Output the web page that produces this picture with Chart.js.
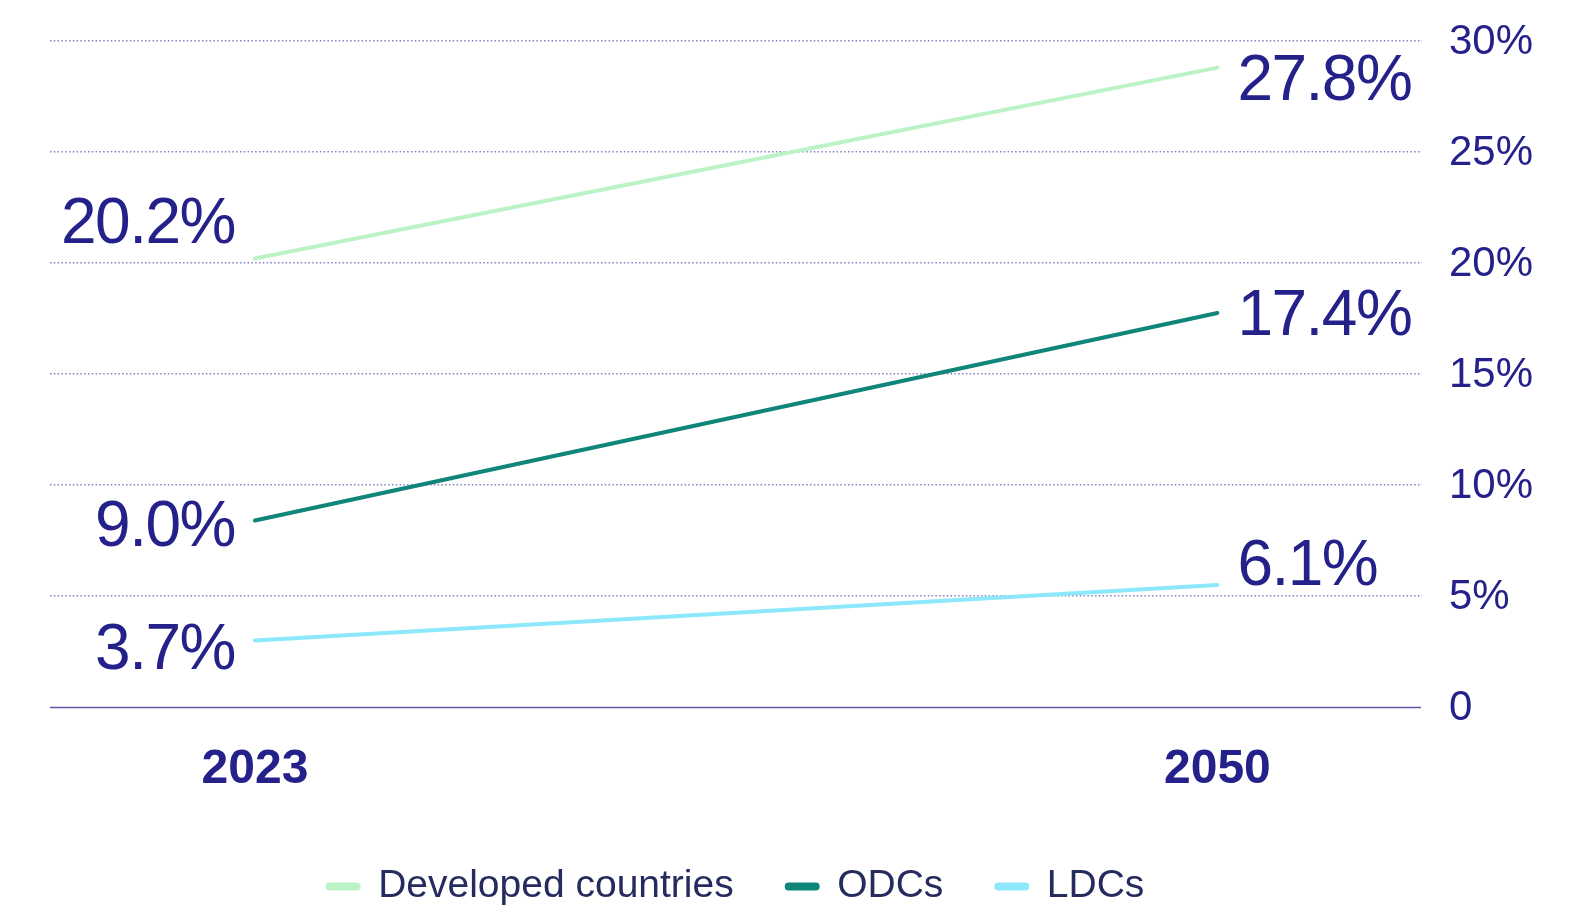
<!DOCTYPE html>
<html>
<head>
<meta charset="utf-8">
<script src="https://cdn.jsdelivr.net/npm/chart.js@4.4.1/dist/chart.umd.min.js"></script>
<style>
  html, body { margin: 0; padding: 0; background: #fff; }
  #wrap { width: 1587px; height: 908px; }
</style>
</head>
<body>
<div id="wrap"><canvas id="chart" width="1587" height="908"></canvas></div>
<script>
// years on the x axis
const years = [2023, 2050];

// series values (as plotted)
const developed = [20.2, 28.8];
const odcs = [8.4, 17.75];
const ldcs = [3.0, 5.5];

// value labels printed next to each end point
const startLabels = ['20.2%', '9.0%', '3.7%'];
const endLabels = ['27.8%', '17.4%', '6.1%'];

const seriesNames = ['Developed countries', 'ODCs', 'LDCs'];
const yTicks = [0, 5, 10, 15, 20, 25, 30];

const navy = '#24218a';
const colors = ['#bbf3c7', '#10857a', '#8ce8fa'];

// vertical nudges for the value labels so they sit clear of the grid
const startShift = [-38, 3, 6];
const endShift = [9, -1, -23];

const endLabelsPlugin = {
  id: 'endLabels',
  afterDatasetsDraw(chart) {
    const ctx = chart.ctx;
    const fs = 64;
    ctx.save();
    ctx.font = `${fs}px "Liberation Sans", Arial, sans-serif`;
    ctx.fillStyle = navy;
    ctx.textBaseline = 'alphabetic';
    if ('letterSpacing' in ctx) ctx.letterSpacing = '-1.5px';
    chart.data.datasets.forEach((ds, i) => {
      const pts = chart.getDatasetMeta(i).data;
      const a = pts[0], b = pts[1];
      ctx.textAlign = 'right';
      ctx.fillText(startLabels[i], a.x - 20, a.y + startShift[i] + fs * 0.358);
      ctx.textAlign = 'left';
      ctx.fillText(endLabels[i], b.x + 20, b.y + endShift[i] + fs * 0.358);
    });
    ctx.restore();
  }
};

const zeroLinePlugin = {
  id: 'zeroLine',
  beforeDatasetsDraw(chart) {
    const { ctx, chartArea } = chart;
    const y = Math.round(chart.scales.y.getPixelForValue(0)) + 0.5;
    ctx.save();
    ctx.strokeStyle = '#5d59a9';
    ctx.lineWidth = 1.5;
    ctx.beginPath();
    ctx.moveTo(chartArea.left, y);
    ctx.lineTo(chartArea.right - 1, y);
    ctx.stroke();
    ctx.restore();
  }
};

const mk = (arr) => arr.map((v, i) => ({ x: years[i], y: v }));

new Chart(document.getElementById('chart'), {
  type: 'line',
  data: {
    datasets: [developed, odcs, ldcs].map((d, i) => ({
      label: seriesNames[i],
      data: mk(d),
      borderColor: colors[i],
      backgroundColor: colors[i],
      borderWidth: 4,
      borderCapStyle: 'round',
      pointRadius: 0,
      tension: 0
    }))
  },
  options: {
    responsive: false,
    devicePixelRatio: 1,
    animation: false,
    layout: { padding: { left: 50, top: 41, right: 0, bottom: -8 } },
    plugins: {
      tooltip: { enabled: false },
      legend: {
        position: 'bottom',
        fullSize: false,
        labels: {
          color: '#262b5f',
          font: { family: '"Liberation Sans", Arial, sans-serif', size: 39 },
          boxWidth: 31,
          boxHeight: 4,
          useBorderRadius: true,
          borderRadius: 2,
          padding: 53
        }
      }
    },
    scales: {
      x: {
        type: 'linear',
        min: 2017.25,
        max: 2055.74,
        grid: { display: false },
        border: { display: false },
        afterBuildTicks: (s) => { s.ticks = years.map(v => ({ value: v })); },
        afterFit: (s) => { s.height = 107; },
        ticks: {
          color: navy,
          padding: 26,
          font: { family: '"Liberation Sans", Arial, sans-serif', size: 48, weight: 'bold' },
          callback: (v) => String(v)
        }
      },
      y: {
        position: 'right',
        min: 0,
        max: 30,
        afterBuildTicks: (s) => { s.ticks = yTicks.map(v => ({ value: v })); },
        afterFit: (s) => { s.width = 165; s.paddingTop = 0; s.paddingBottom = 0; },
        grid: {
          drawTicks: false,
          lineWidth: 1.5,
          color: (c) => (c.tick && c.tick.value === 0 ? 'rgba(0,0,0,0)' : '#8581c6')
        },
        border: { display: false, dash: [1.5, 2.3] },
        ticks: {
          color: navy,
          padding: 27,
          labelOffset: 1,
          font: { family: '"Liberation Sans", Arial, sans-serif', size: 42 },
          callback: (v) => (v === 0 ? '0' : v + '%')
        }
      }
    }
  },
  plugins: [zeroLinePlugin, endLabelsPlugin]
});
</script>
</body>
</html>
